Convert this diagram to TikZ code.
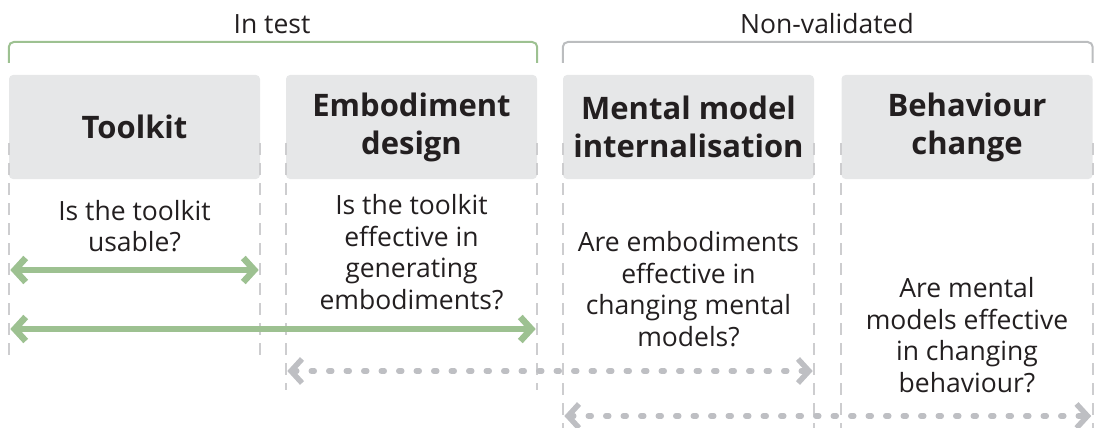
\documentclass[tikz,border=0pt]{standalone}
\usepackage{fontspec}
\IfFontExistsTF{Open Sans SemiBold}
  {\setmainfont{Open Sans}[BoldFont={Open Sans SemiBold}]}
  {\setmainfont{Open Sans}}
\usetikzlibrary{arrows.meta, positioning}
\definecolor{ink}{RGB}{35,31,32}
\definecolor{sage}{RGB}{157,193,145}
\definecolor{boxgray}{RGB}{230,231,232}
\definecolor{guidegray}{RGB}{205,205,207}
\definecolor{dotgray}{RGB}{190,191,195}
\definecolor{brgray}{RGB}{187,189,191}

\begin{document}
\begin{tikzpicture}[x=1pt, y=-1pt,
    head/.style={rectangle, rounded corners=4pt, fill=boxgray, minimum width=251pt, minimum height=104pt, font=\fontsize{31}{38}\selectfont\bfseries, text=ink, align=center},
    ques/.style={font=\fontsize{26.5}{31.5}\selectfont, text=ink, align=center},
    guide/.style={guidegray, line width=2pt, dash pattern=on 12pt off 8pt},
    brace/.style={line width=2pt, rounded corners=5pt},
    okarr/.style={{Straight Barb[length=11pt,width=24pt]}-{Straight Barb[length=11pt,width=24pt]}, sage, line width=6.5pt, shorten <=1.5pt, shorten >=1.5pt},
    openarr/.style={{Straight Barb[length=11pt,width=24pt]}-{Straight Barb[length=11pt,width=24pt]}, dotgray, line width=5.5pt, line cap=round, dash pattern=on 3pt off 14.5pt, shorten <=1.5pt, shorten >=1.5pt},
]
\useasboundingbox (0,0) rectangle (1100,428);

% stage headers
\node[head] (tool) at (134.5,127) {Toolkit};
\node[head] (embo) at (411.5,127) {Embodiment\\design};
\node[head] (ment) at (688.5,127) {Mental model\\internalisation};
\node[head] (behv) at (967,127)   {Behaviour\\change};

% column guides
\foreach \n/\e in {tool/360, embo/390, ment/428, behv/428} {
    \draw[guide] (\n.west |- 0,143) -- (\n.west |- 0,\e);
    \draw[guide] (\n.east |- 0,143) -- (\n.east |- 0,\e);
}

% questions
\node[ques] (q1) at (tool |- 0,226) {Is the toolkit\\usable?};
\node[ques] (q2) at (embo |- 0,252) {Is the toolkit\\effective in\\generating\\embodiments?};
\node[ques] (q3) at (ment |- 0,289) {Are embodiments\\effective in\\changing mental\\models?};
\node[ques] (q4) at (behv |- 0,335) {Are mental\\models effective\\in changing\\behaviour?};

% groups
\draw[brace, sage] (tool.west |- 0,63) |- (embo.east |- 0,42) -- (embo.east |- 0,63);
\draw[brace, brgray] (ment.west |- 0,63) |- (behv.east |- 0,42) -- (behv.east |- 0,63);
\node[ques] (intest) at (272,24) {In test};
\node[ques] (nonval) at (827,24) {Non-validated};

% spans
\draw[okarr] (tool.west |- 0,270) -- (tool.east |- 0,270);
\draw[okarr] (tool.west |- 0,329) -- (embo.east |- 0,329);
\draw[openarr] (embo.west |- 0,371) -- (ment.east |- 0,371);
\draw[openarr] (ment.west |- 0,416) -- (behv.east |- 0,416);
\end{tikzpicture}
\end{document}
